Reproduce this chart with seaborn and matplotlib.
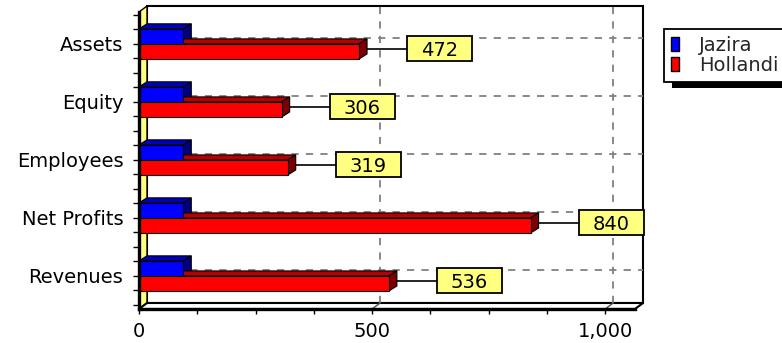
import matplotlib
matplotlib.use("Agg")
import matplotlib.pyplot as plt
import pandas as pd
import seaborn as sns
from matplotlib.colors import to_rgba
from matplotlib.lines import Line2D
from matplotlib.patches import Polygon, Rectangle, Patch
from matplotlib.ticker import MultipleLocator, FixedLocator, FuncFormatter
from matplotlib.transforms import IdentityTransform

# ---- data ---------------------------------------------------------------
categories = ["Assets", "Equity", "Employees", "Net Profits", "Revenues"]
series_names = ["Jazira", "Hollandi"]
jazira = [95, 95, 95, 95, 95]
hollandi = [472, 306, 319, 840, 536]
x_major = [0, 500, 1000]

# ---- styling ------------------------------------------------------------
colors = {"Jazira": "#0000FF", "Hollandi": "#FF0000"}
top_colors = {"Jazira": "#0000B8", "Hollandi": "#B80000"}
side_colors = {"Jazira": "#00007C", "Hollandi": "#7C0000"}
WALL = "#FFFF80"
LABEL_BOX = "#FFFF80"
GRID = "#808080"
FS = 14

df = pd.DataFrame({
    "category": categories * 2,
    "company": ["Jazira"] * len(categories) + ["Hollandi"] * len(categories),
    "value": jazira + hollandi,
})

DPI = 100
W, H = 782, 343
sns.set_theme(style="white")
plt.rcParams["font.family"] = ["DejaVu Sans"]

fig = plt.figure(figsize=(W / DPI, H / DPI), dpi=DPI)
fig.patch.set_facecolor("white")

# front plane of the 3-D box (pixel edges)
L, R, T, B = 139, 635, 12, 309
ax = fig.add_axes([L / W, 1 - B / H, (R - L) / W, (B - T) / H])
ax.set_facecolor("none")

sns.barplot(data=df, x="value", y="category", hue="company",
            order=categories, hue_order=series_names, orient="h",
            palette=colors, saturation=1, width=0.52, errorbar=None,
            edgecolor="black", linewidth=0.8, legend=False, ax=ax, zorder=3)
bars = list(ax.patches)

ax.set_xlim(0, 1064)
ax.set_ylim(4.57, -0.55)
ax.set_xlabel("")
ax.set_ylabel("")

# ---- axes, ticks --------------------------------------------------------
for side in ("top", "right"):
    ax.spines[side].set_visible(False)
for side in ("left", "bottom"):
    ax.spines[side].set_color("black")
    ax.spines[side].set_linewidth(2.4)
    ax.spines[side].set_zorder(6)

ax.xaxis.set_major_locator(FixedLocator(x_major))
ax.xaxis.set_minor_locator(MultipleLocator(125))
ax.xaxis.set_major_formatter(FuncFormatter(lambda v, p: f"{v:,.0f}"))
ax.yaxis.set_minor_locator(FixedLocator(
    [k / 4 for k in range(-2, 4 * len(categories) - 1) if k % 4]))
ax.tick_params(axis="x", which="both", bottom=True, direction="out",
               length=3.6, width=1, color="black", pad=5.5, labelsize=FS,
               labelcolor="black")
ax.tick_params(axis="y", which="both", left=True, direction="out",
               length=4.3, width=1, color="black", pad=7, labelsize=FS,
               labelcolor="black")

fig.canvas.draw()
ident = IdentityTransform()
x0, y0 = ax.transAxes.transform((0, 0))
x1, y1 = ax.transAxes.transform((1, 1))
DX, DY = 8, 6          # depth of the box
BDX, BDY = 8, 5        # depth of the bars


def px(x, y):
    return ax.transData.transform((x, y))


# back wall
ax.add_patch(Rectangle((x0 + DX, y0 + DY), x1 - x0, y1 - y0,
                       facecolor="white", edgecolor="black", lw=1.5,
                       transform=ident, clip_on=False, zorder=0.5))
# left wall
ax.add_patch(Polygon([(x0, y0), (x0, y1), (x0 + DX, y1 + DY), (x0 + DX, y0 + DY)],
                     closed=True, facecolor=WALL, edgecolor="black", lw=1,
                     transform=ident, clip_on=False, zorder=0.8))
# floor
ax.add_patch(Polygon([(x0, y0), (x1, y0), (x1 + DX, y0 + DY), (x0 + DX, y0 + DY)],
                     closed=True, facecolor="white", edgecolor="black", lw=1.5,
                     transform=ident, clip_on=False, zorder=0.8))

# grid on the back wall
for v in x_major[1:]:
    gx = px(v, 0)[0]
    ax.add_line(Line2D([gx + DX, gx + DX], [y0 + DY, y1 + DY], color=GRID,
                       lw=1.3, dashes=(4, 4), transform=ident, clip_on=False,
                       zorder=1))
    ax.add_line(Line2D([gx, gx + DX], [y0, y0 + DY], color="#505050", lw=1,
                       transform=ident, clip_on=False, zorder=1))
for i in range(len(categories)):
    gy = px(0, i)[1]
    ax.add_line(Line2D([x0 + DX, x1 + DX], [gy + DY, gy + DY], color=GRID,
                       lw=1.3, dashes=(4, 4), transform=ident, clip_on=False,
                       zorder=1))

# 3-D faces of the bars, kept behind the front faces
for p in bars:
    name = next(n for n in series_names
                if to_rgba(colors[n]) == tuple(p.get_facecolor()))
    (xa, ya) = px(p.get_x(), p.get_y())
    (xb, yb) = px(p.get_x() + p.get_width(), p.get_y() + p.get_height())
    xl, xr = min(xa, xb), max(xa, xb)
    ybot, ytop = min(ya, yb), max(ya, yb)
    ax.add_patch(Polygon([(xl, ytop), (xr, ytop), (xr + BDX, ytop + BDY),
                          (xl + BDX, ytop + BDY)], closed=True,
                         facecolor=top_colors[name], edgecolor="black", lw=0.8,
                         transform=ident, clip_on=False, zorder=2.8))
    ax.add_patch(Polygon([(xr, ybot), (xr, ytop), (xr + BDX, ytop + BDY),
                          (xr + BDX, ybot + BDY)], closed=True,
                         facecolor=side_colors[name], edgecolor="black", lw=0.8,
                         transform=ident, clip_on=False, zorder=2.8))

# value call-outs for Hollandi
BOX_W, BOX_H, GAP = 65, 25, 48
for i, v in enumerate(hollandi):
    xe, yc = px(v, i + 0.13)
    yc += 2.5
    ax.add_line(Line2D([xe, xe + GAP], [yc, yc], color="black", lw=1.2,
                       transform=ident, clip_on=False, zorder=2.6))
    ax.add_patch(Rectangle((xe + GAP, yc - BOX_H / 2), BOX_W, BOX_H,
                           facecolor=LABEL_BOX, edgecolor="black", lw=1.3,
                           transform=ident, clip_on=False, zorder=4))
    ax.text(xe + GAP + BOX_W / 2, yc, f"{v}", ha="center", va="center_baseline",
            fontsize=FS, color="black", transform=ident, zorder=5)

# legend with a drop shadow
handles = [Patch(facecolor=colors[n], edgecolor="black", lw=1, label=n)
           for n in series_names]
leg = fig.legend(handles=handles, loc="upper left",
                 bbox_to_anchor=(664 / W, 1 - 29 / H), fontsize=FS,
                 frameon=True, fancybox=False, edgecolor="black",
                 framealpha=1, borderpad=0.35, handlelength=0.4,
                 handleheight=0.75, handletextpad=1.05, labelspacing=0.05,
                 borderaxespad=0)
leg.get_frame().set_linewidth(1.3)
fig.canvas.draw()
bb = leg.get_window_extent()
fig.add_artist(Rectangle((bb.x0 + 8, bb.y0 - 6), bb.width, bb.height,
                         facecolor="black", edgecolor="none",
                         transform=ident, zorder=leg.get_zorder() - 0.1))

fig.savefig("out.png", dpi=DPI, facecolor="white")
